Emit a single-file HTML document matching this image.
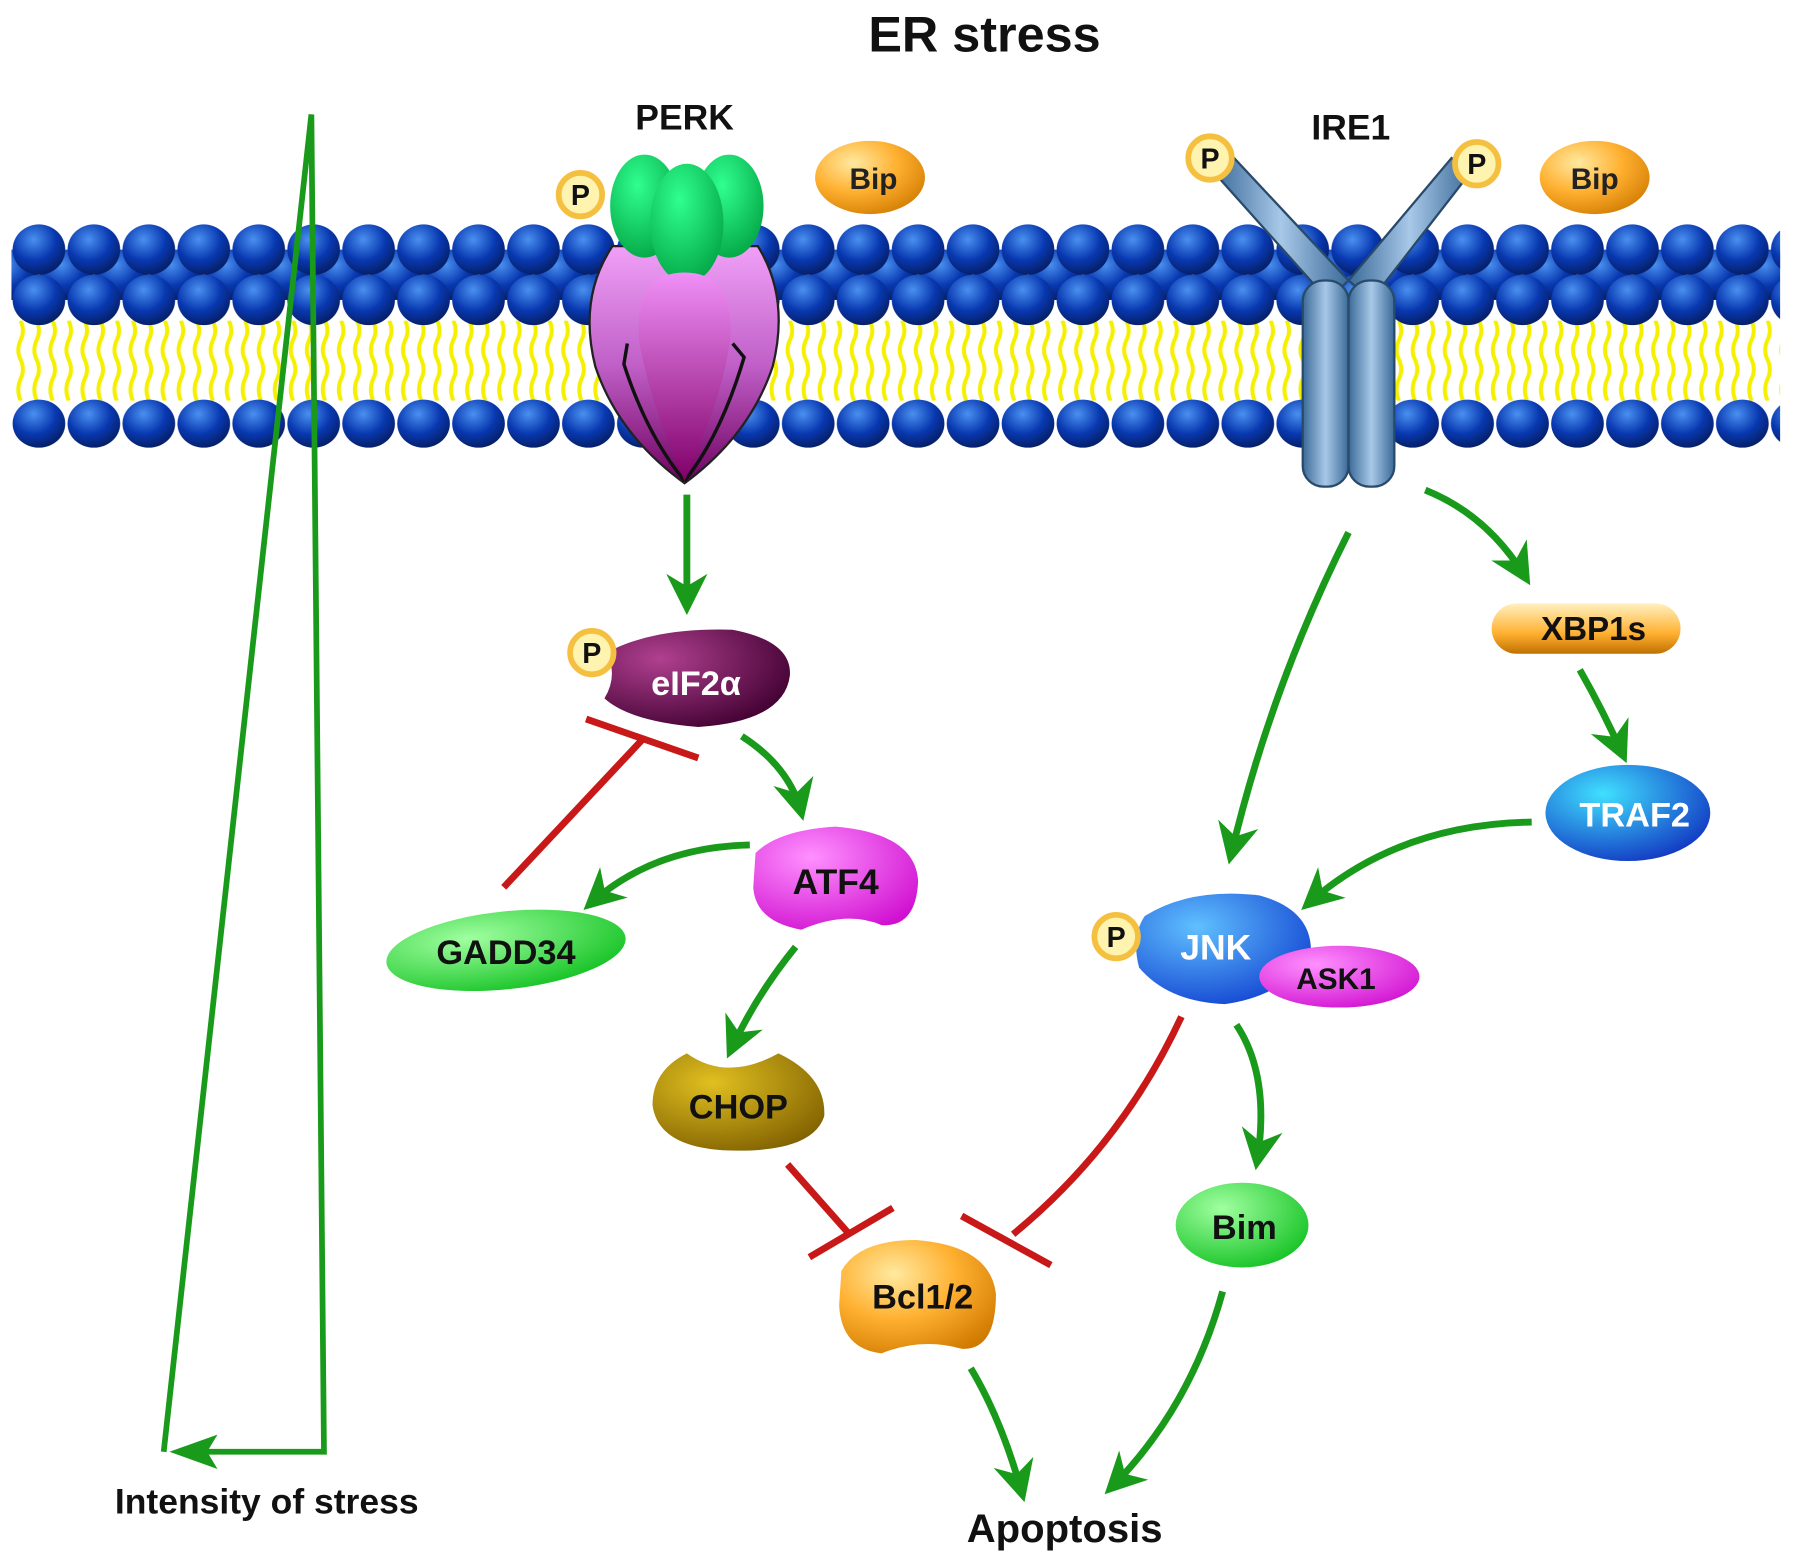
<!DOCTYPE html>
<html><head><meta charset="utf-8"><style>
html,body{margin:0;padding:0;background:#fff;}
svg{display:block}
text{font-family:"Liberation Sans",sans-serif;font-weight:bold;}
</style></head><body>
<svg width="1795" height="1564" viewBox="0 0 1568 1366" preserveAspectRatio="none" xmlns="http://www.w3.org/2000/svg">
<defs>
<radialGradient id="bh" cx="0.4" cy="0.3" r="0.7"><stop offset="0" stop-color="#4a90f0"/><stop offset="0.6" stop-color="#0838b0"/><stop offset="1" stop-color="#06206a"/></radialGradient>
<pattern id="row" x="10" y="0" width="48" height="1366" patternUnits="userSpaceOnUse">
<ellipse cx="24" cy="218" rx="23" ry="22" fill="url(#bh)"/>
</pattern>
<pattern id="row2" x="34" y="0" width="48" height="1366" patternUnits="userSpaceOnUse">
<ellipse cx="24" cy="240" rx="23" ry="22" fill="url(#bh)"/>
<ellipse cx="0" cy="262" rx="23" ry="22" fill="url(#bh)"/>
<ellipse cx="48" cy="262" rx="23" ry="22" fill="url(#bh)"/>
</pattern>
<pattern id="row3" x="10" y="0" width="48" height="1366" patternUnits="userSpaceOnUse">
<ellipse cx="24" cy="370" rx="23" ry="21" fill="url(#bh)"/>
</pattern>
<pattern id="tails" x="0" y="280" width="14" height="70" patternUnits="userSpaceOnUse">
<path d="M4 0 q4 9 0 17 q-4 9 0 17 q4 9 0 17 q-4 9 0 19" stroke="#f5f000" stroke-width="3.5" fill="none"/>
</pattern>
<radialGradient id="og" cx="0.35" cy="0.3" r="0.8"><stop offset="0" stop-color="#ffe9a0"/><stop offset="0.5" stop-color="#ffb030"/><stop offset="1" stop-color="#d07a00"/></radialGradient>
<radialGradient id="gg" cx="0.4" cy="0.3" r="0.8"><stop offset="0" stop-color="#30ff90"/><stop offset="1" stop-color="#00a040"/></radialGradient>
<linearGradient id="pd" x1="0" y1="0" x2="0" y2="1"><stop offset="0" stop-color="#f0a0f8"/><stop offset="0.5" stop-color="#c060c8"/><stop offset="1" stop-color="#700060"/></linearGradient>
<linearGradient id="pc" x1="0" y1="0" x2="0" y2="1"><stop offset="0" stop-color="#f090f8"/><stop offset="1" stop-color="#800068"/></linearGradient>
<radialGradient id="mg" cx="0.35" cy="0.3" r="0.8"><stop offset="0" stop-color="#ff90ff"/><stop offset="1" stop-color="#d010d0"/></radialGradient>
<radialGradient id="eg" cx="0.3" cy="0.3" r="0.8"><stop offset="0" stop-color="#b04090"/><stop offset="1" stop-color="#400030"/></radialGradient>
<radialGradient id="lg" cx="0.35" cy="0.3" r="0.8"><stop offset="0" stop-color="#a0ffa0"/><stop offset="1" stop-color="#10c020"/></radialGradient>
<radialGradient id="cg" cx="0.35" cy="0.3" r="0.8"><stop offset="0" stop-color="#e0c020"/><stop offset="1" stop-color="#806000"/></radialGradient>
<radialGradient id="jg" cx="0.35" cy="0.3" r="0.8"><stop offset="0" stop-color="#60c0ff"/><stop offset="1" stop-color="#1040d0"/></radialGradient>
<radialGradient id="tg" cx="0.35" cy="0.3" r="0.8"><stop offset="0" stop-color="#40e0ff"/><stop offset="1" stop-color="#1030c0"/></radialGradient>
<linearGradient id="xg" x1="0" y1="0" x2="0" y2="1"><stop offset="0" stop-color="#fff0c0"/><stop offset="0.6" stop-color="#ffb030"/><stop offset="1" stop-color="#c07000"/></linearGradient>
<linearGradient id="ig" x1="0" x2="1"><stop offset="0" stop-color="#3a6a98"/><stop offset="0.5" stop-color="#a8c8e8"/><stop offset="1" stop-color="#3a6a98"/></linearGradient>
<marker id="ga" viewBox="0 0 10 10" refX="8" refY="5" markerWidth="6" markerHeight="6" orient="auto"><path d="M0 0 L10 5 L0 10 L3 5z" fill="#1a9a1a"/></marker>
<g id="P"><circle r="19" fill="#fff3b0" stroke="#f5c040" stroke-width="5"/><text y="9" text-anchor="middle" font-size="25" fill="#111">P</text></g>
</defs>

<text x="860" y="45" text-anchor="middle" font-size="44" fill="#111">ER stress</text>

<rect x="10" y="280" width="1545" height="70" fill="url(#tails)"/>
<rect x="10" y="195" width="1545" height="90" fill="url(#row2)"/>
<rect x="10" y="195" width="1545" height="50" fill="url(#row)"/>
<rect x="10" y="348" width="1545" height="45" fill="url(#row3)"/>

<g stroke="#1a9a1a" stroke-width="5" fill="none">
<polyline points="143,1268 272,100 283,1268 160,1268"/>
</g>
<path d="M148 1268 L190 1253 L181 1268 L190 1283z" fill="#1a9a1a"/>
<text x="233" y="1322" text-anchor="middle" font-size="31" fill="#111">Intensity of stress</text>

<!-- PERK -->
<text x="598" y="113" text-anchor="middle" font-size="31" fill="#111">PERK</text>
<path d="M535 215 Q505 260 520 320 Q540 380 598 422 Q655 380 675 320 Q690 260 662 215 Z" fill="url(#pd)" stroke="#222" stroke-width="2"/>
<path d="M548 300 L545 318 Q565 380 598 420 M640 300 L650 312 Q630 380 598 420" stroke="#111" stroke-width="3" fill="none"/>
<ellipse cx="563" cy="180" rx="30" ry="45" fill="url(#gg)"/>
<ellipse cx="637" cy="180" rx="30" ry="45" fill="url(#gg)"/>
<ellipse cx="600" cy="195" rx="32" ry="52" fill="url(#gg)"/>
<path d="M598 238 Q555 238 558 295 Q565 345 598 420 Q632 345 638 295 Q641 238 598 238Z" fill="url(#pc)"/>
<use href="#P" x="507" y="170"/>
<ellipse cx="760" cy="155" rx="48" ry="32" fill="url(#og)"/>
<text x="763" y="165" text-anchor="middle" font-size="26" fill="#222">Bip</text>

<!-- IRE1 -->
<text x="1180" y="122" text-anchor="middle" font-size="31" fill="#111">IRE1</text>
<g stroke="#2a4a6a" stroke-width="2" fill="url(#ig)">
<path d="M1060 150 L1078 138 L1178 245 L1160 262 Z"/>
<path d="M1285 150 L1268 138 L1178 245 L1198 262 Z"/>
<rect x="1138" y="245" width="40" height="180" rx="18"/>
<rect x="1178" y="245" width="40" height="180" rx="18"/>
</g>
<use href="#P" x="1057" y="138"/>
<use href="#P" x="1290" y="143"/>
<ellipse cx="1393" cy="155" rx="48" ry="32" fill="url(#og)"/>
<text x="1393" y="165" text-anchor="middle" font-size="26" fill="#222">Bip</text>

<g stroke="#1a9a1a" stroke-width="6" fill="none" marker-end="url(#ga)">
<path d="M600 432 L600 530"/>
<path d="M1178 465 Q1110 600 1075 748"/>
<path d="M1245 428 Q1300 450 1333 505"/>
<path d="M1380 585 Q1400 620 1418 660"/>
<path d="M1338 718 Q1220 720 1142 790"/>
<path d="M648 643 Q690 670 700 710"/>
<path d="M655 738 Q570 740 515 790"/>
<path d="M695 827 Q660 870 638 918"/>
<path d="M1080 895 Q1110 940 1098 1015"/>
<path d="M848 1195 Q875 1240 893 1305"/>
<path d="M1068 1128 Q1040 1230 970 1300"/>
</g>
<g stroke="#c81818" stroke-width="6" fill="none">
<path d="M440 775 L562 645"/><path d="M512 628 L610 662"/>
<path d="M688 1017 L742 1078"/><path d="M707 1098 L780 1055"/>
<path d="M1032 888 Q980 1000 885 1078"/><path d="M840 1062 L918 1105"/>
</g>

<rect x="1303" y="527" width="165" height="44" rx="22" fill="url(#xg)"/>
<text x="1392" y="559" text-anchor="middle" font-size="29" fill="#111">XBP1s</text>
<ellipse cx="1422" cy="710" rx="72" ry="42" fill="url(#tg)"/>
<text x="1428" y="722" text-anchor="middle" font-size="30" fill="#fff">TRAF2</text>

<path d="M530 570 Q570 548 640 550 Q692 560 690 590 Q685 630 610 635 Q550 630 528 610 Q540 590 530 570Z" fill="url(#eg)"/>
<use href="#P" x="517" y="570"/>
<text x="608" y="607" text-anchor="middle" font-size="30" fill="#fff">eIF2α</text>

<path d="M660 745 Q680 725 730 722 Q800 728 802 770 Q800 810 770 808 Q740 795 700 812 Q660 805 658 775Z" fill="url(#mg)"/>
<text x="730" y="781" text-anchor="middle" font-size="31" fill="#111">ATF4</text>

<ellipse cx="442" cy="830" rx="105" ry="34" transform="rotate(-6 442 830)" fill="url(#lg)"/>
<text x="442" y="842" text-anchor="middle" font-size="30" fill="#111">GADD34</text>

<path d="M600 920 Q635 945 680 920 Q722 940 720 975 Q710 1005 645 1005 Q575 1005 570 965 Q570 935 600 920Z" fill="url(#cg)"/>
<text x="645" y="977" text-anchor="middle" font-size="30" fill="#111">CHOP</text>

<path d="M735 1110 Q750 1083 800 1083 Q865 1088 870 1130 Q870 1180 840 1178 Q805 1168 770 1182 Q735 1178 733 1140Z" fill="url(#og)"/>
<text x="806" y="1143" text-anchor="middle" font-size="30" fill="#111">Bcl1/2</text>

<path d="M1000 800 Q1040 775 1100 782 Q1148 795 1145 835 Q1120 870 1070 877 Q1020 875 995 845 Q988 818 1000 800Z" fill="url(#jg)"/>
<use href="#P" x="975" y="818"/>
<text x="1062" y="838" text-anchor="middle" font-size="31" fill="#fff">JNK</text>
<ellipse cx="1170" cy="853" rx="70" ry="27" fill="url(#mg)"/>
<text x="1167" y="864" text-anchor="middle" font-size="26" fill="#111">ASK1</text>

<ellipse cx="1085" cy="1070" rx="58" ry="37" fill="url(#lg)"/>
<text x="1087" y="1082" text-anchor="middle" font-size="30" fill="#111">Bim</text>

<text x="930" y="1347" text-anchor="middle" font-size="35" fill="#111">Apoptosis</text>
</svg>
</body></html>
